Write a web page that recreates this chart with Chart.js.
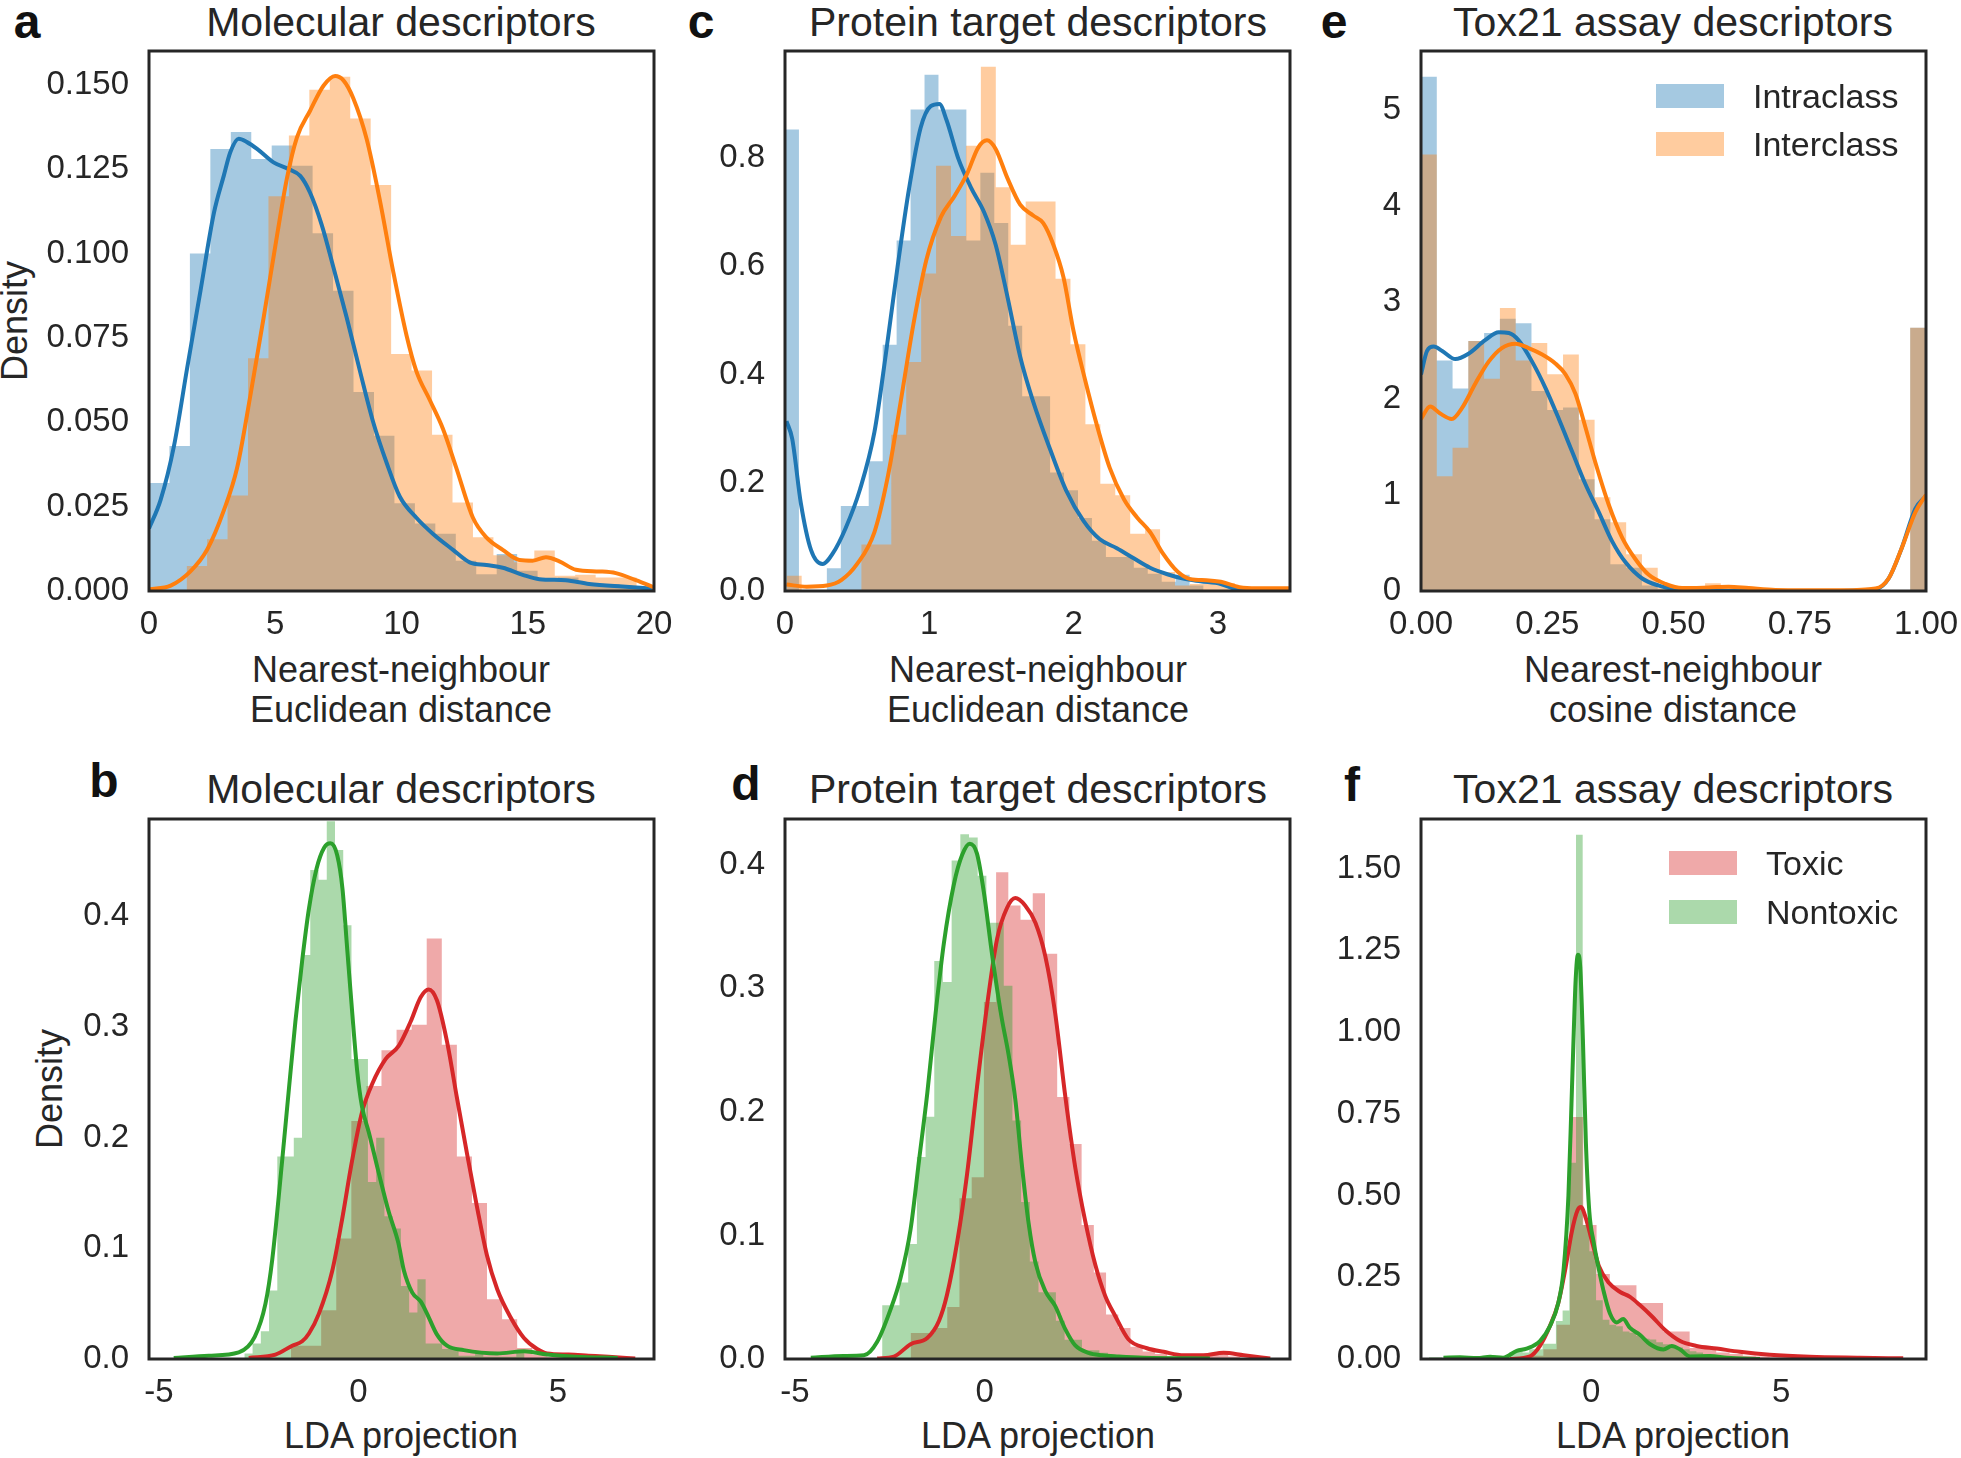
<!DOCTYPE html>
<html>
<head>
<meta charset="utf-8">
<script src="https://cdn.jsdelivr.net/npm/chart.js@4.4.1/dist/chart.umd.min.js"></script>
<style>
  body { margin: 0; background: #fff; width: 1961px; height: 1458px; position: relative; overflow: hidden;
         font-family: "Liberation Sans", Arial, sans-serif; color: #262626; }
  canvas { position: absolute; }
  .t { position: absolute; white-space: nowrap; transform: translate(-50%, -50%); line-height: 1; }
  .title { font-size: 41px; }
  .lab { font-size: 36px; }
  .letter { font-size: 48px; font-weight: bold; color: #111; }
  .ylab { font-size: 36px; transform: translate(-50%, -50%) rotate(-90deg); }
  .sw { position: absolute; width: 68px; height: 24px; }
  .lg { position: absolute; font-size: 34px; line-height: 1; transform: translateY(-50%); white-space: nowrap; }
</style>
</head>
<body>

<div class="t letter" style="left:27px;top:22px">a</div>
<div class="t letter" style="left:701px;top:22px">c</div>
<div class="t letter" style="left:1334px;top:22px">e</div>
<div class="t letter" style="left:104px;top:781px">b</div>
<div class="t letter" style="left:746px;top:784px">d</div>
<div class="t letter" style="left:1352px;top:785px">f</div>

<div class="t title" style="left:401px;top:22px">Molecular descriptors</div>
<div class="t title" style="left:1038px;top:22px">Protein target descriptors</div>
<div class="t title" style="left:1673px;top:22px">Tox21 assay descriptors</div>
<div class="t title" style="left:401px;top:789px">Molecular descriptors</div>
<div class="t title" style="left:1038px;top:789px">Protein target descriptors</div>
<div class="t title" style="left:1673px;top:789px">Tox21 assay descriptors</div>

<div class="t lab" style="left:401px;top:670px">Nearest-neighbour</div>
<div class="t lab" style="left:401px;top:710px">Euclidean distance</div>
<div class="t lab" style="left:1038px;top:670px">Nearest-neighbour</div>
<div class="t lab" style="left:1038px;top:710px">Euclidean distance</div>
<div class="t lab" style="left:1673px;top:670px">Nearest-neighbour</div>
<div class="t lab" style="left:1673px;top:710px">cosine distance</div>
<div class="t lab" style="left:401px;top:1436px">LDA projection</div>
<div class="t lab" style="left:1038px;top:1436px">LDA projection</div>
<div class="t lab" style="left:1673px;top:1436px">LDA projection</div>

<div class="t ylab" style="left:15px;top:321px">Density</div>
<div class="t ylab" style="left:50px;top:1089px">Density</div>

<canvas id="pa"></canvas>
<canvas id="pc"></canvas>
<canvas id="pe"></canvas>
<canvas id="pb"></canvas>
<canvas id="pd"></canvas>
<canvas id="pf"></canvas>

<div class="sw" style="left:1656px;top:84px;background:#a5c9e1"></div>
<div class="lg" style="left:1753px;top:96px">Intraclass</div>
<div class="sw" style="left:1656px;top:132px;background:#ffcc9f"></div>
<div class="lg" style="left:1753px;top:144px">Interclass</div>
<div class="sw" style="left:1669px;top:851px;background:#efa9a9"></div>
<div class="lg" style="left:1766px;top:863px">Toxic</div>
<div class="sw" style="left:1669px;top:900px;background:#abd9ab"></div>
<div class="lg" style="left:1766px;top:912px">Nontoxic</div>

<script>
// ---- panel a: molecular descriptors, nearest-neighbour distance ----
const aIntraStart = 0, aIntraWidth = 0.81;
const aIntraHist = [0.032, 0.043, 0.100, 0.131, 0.136, 0.128, 0.132, 0.126, 0.106, 0.089, 0.059, 0.046,
  0.026, 0.020, 0.017, 0.009, 0.005, 0.011, 0.006, 0.003, 0.004, 0.002, 0.002, 0.001, 0.001];
const aInterStart = 1.49, aInterWidth = 0.81;
const aInterHist = [0.0074, 0.0153, 0.0283, 0.069, 0.117, 0.135, 0.1485, 0.1524, 0.140, 0.1203, 0.0702,
  0.0653, 0.0463, 0.0262, 0.0159, 0.0106, 0.0085, 0.012, 0.0045, 0.0048, 0.004, 0.004, 0.001];
const aIntraKde = [[0,0.0185],[0.46,0.027],[0.99,0.043],[1.51,0.066],[2.04,0.089],[2.57,0.112],[2.96,0.123],
  [3.22,0.13],[3.55,0.134],[3.88,0.133],[4.28,0.131],[4.93,0.127],[5.53,0.125],[5.99,0.123],[6.38,0.118],
  [6.84,0.1085],[7.30,0.096],[7.83,0.081],[8.36,0.065],[8.88,0.050],[9.41,0.038],[9.93,0.028],[10.59,0.0217],
  [11.25,0.0169],[12.04,0.0122],[12.7,0.0085],[13.36,0.0077],[14.01,0.0069],[14.8,0.0048],[15.46,0.0035],
  [16.5,0.0032],[17.43,0.0021],[18.75,0.0013],[20,0.0007]];
const aInterKde = [[0,0.0005],[0.86,0.0016],[1.64,0.0058],[2.3,0.0122],[2.96,0.0238],[3.49,0.0365],[4.01,0.0577],
  [4.54,0.081],[5.07,0.1053],[5.46,0.1222],[5.86,0.1344],[6.38,0.1423],[6.91,0.1497],[7.37,0.1526],[7.7,0.1513],
  [8.09,0.146],[8.62,0.1339],[9.14,0.1159],[9.67,0.0947],[10.2,0.0757],[10.59,0.0651],[11.12,0.0566],
  [11.64,0.0481],[12.17,0.0365],[12.83,0.0217],[13.36,0.0159],[14.01,0.0122],[14.67,0.0092],[15.2,0.009],
  [15.72,0.01],[16.25,0.0088],[16.91,0.0063],[17.83,0.0058],[18.49,0.0053],[19.28,0.0032],[20,0.0011]];

// ---- panel c: protein target descriptors ----
const cIntraStart = 0, cIntraWidth = 0.0967;
const cIntraHist = [0.853, 0, 0, 0.042, 0.157, 0.157, 0.24, 0.455, 0.648, 0.89, 0.954, 0.89, 0.89, 0.648,
  0.773, 0.68, 0.49, 0.36, 0.36, 0.219, 0.186, 0.135, 0.093, 0.063, 0.063, 0.043, 0.032, 0.017, 0.03, 0.01];
const cInterStart = 0.012, cInterWidth = 0.1035;
const cInterHist = [0.028, 0, 0, 0, 0, 0.086, 0.086, 0.289, 0.423, 0.587, 0.786, 0.656, 0.823, 0.969, 0.746,
  0.64, 0.72, 0.72, 0.577, 0.456, 0.308, 0.198, 0.177, 0.106, 0.114, 0.035, 0.01, 0.013, 0.013, 0.015, 0.005];
const cIntraKde = [[0.01,0.314],[0.05,0.281],[0.11,0.162],[0.18,0.076],[0.26,0.05],[0.33,0.069],[0.42,0.116],
  [0.52,0.188],[0.62,0.294],[0.70,0.44],[0.78,0.599],[0.86,0.744],[0.94,0.856],[1.01,0.896],[1.07,0.9],
  [1.12,0.87],[1.20,0.8],[1.29,0.745],[1.38,0.7],[1.46,0.64],[1.54,0.546],[1.63,0.433],[1.72,0.35],
  [1.84,0.26],[1.95,0.185],[2.07,0.129],[2.18,0.096],[2.30,0.079],[2.42,0.06],[2.53,0.043],[2.65,0.031],
  [2.76,0.023],[2.88,0.018],[3.02,0.013],[3.13,0.003],[3.27,0],[3.5,0]];
const cInterKde = [[0.01,0.012],[0.15,0.008],[0.29,0.01],[0.39,0.02],[0.50,0.05],[0.62,0.109],[0.71,0.208],
  [0.80,0.347],[0.89,0.493],[0.98,0.612],[1.08,0.691],[1.17,0.728],[1.26,0.77],[1.34,0.82],[1.40,0.833],
  [1.46,0.817],[1.54,0.764],[1.63,0.714],[1.72,0.694],[1.79,0.68],[1.86,0.64],[1.93,0.58],[2.0,0.48],
  [2.08,0.39],[2.16,0.308],[2.25,0.228],[2.35,0.169],[2.44,0.136],[2.53,0.109],[2.62,0.069],[2.72,0.036],
  [2.81,0.022],[2.92,0.02],[3.02,0.017],[3.15,0.007],[3.27,0.005],[3.5,0.005]];

// ---- panel e: Tox21 assay descriptors ----
const eIntraStart = 0, eIntraWidth = 0.03125;
const eIntraHist = [5.342, 2.394, 2.103, 2.598, 2.68, 2.829, 2.781, 2.077, 1.88, 1.906, 1.161, 0.745, 0.279,
  0.242, 0.056, 0.02, 0, 0, 0, 0, 0, 0, 0, 0, 0, 0, 0, 0, 0, 0, 0, 2.736];
const eInterStart = 0, eInterWidth = 0.03125;
const eInterHist = [4.534, 1.191, 1.489, 2.598, 2.204, 2.94, 2.394, 2.576, 2.252, 2.457, 1.779, 0.975, 0.715,
  0.383, 0.242, 0.037, 0.02, 0.02, 0.08, 0.04, 0.02, 0.01, 0.01, 0, 0, 0, 0, 0, 0, 0, 0, 2.736];
const eIntraKde = [[0,2.25],[0.012,2.494],[0.025,2.539],[0.042,2.494],[0.068,2.409],[0.094,2.464],[0.127,2.606],
  [0.154,2.688],[0.174,2.68],[0.193,2.606],[0.22,2.383],[0.247,2.103],[0.273,1.787],[0.299,1.452],[0.325,1.117],
  [0.352,0.819],[0.378,0.521],[0.405,0.298],[0.438,0.13],[0.471,0.056],[0.504,0.019],[0.537,0.007],[0.636,0],
  [0.8,0],[0.9,0.019],[0.926,0.13],[0.952,0.447],[0.979,0.856],[1.0,0.99]];
const eInterKde = [[0,1.787],[0.018,1.917],[0.038,1.843],[0.061,1.787],[0.081,1.899],[0.108,2.159],[0.134,2.383],
  [0.16,2.524],[0.187,2.569],[0.213,2.524],[0.24,2.457],[0.266,2.364],[0.286,2.252],[0.306,2.047],[0.325,1.712],
  [0.345,1.34],[0.372,0.893],[0.398,0.558],[0.424,0.335],[0.451,0.168],[0.484,0.074],[0.517,0.03],[0.57,0.037],
  [0.609,0.045],[0.649,0.03],[0.702,0.011],[0.834,0.007],[0.9,0.026],[0.926,0.13],[0.952,0.447],[0.979,0.819],
  [1.0,1.0]];

// ---- panel b: molecular descriptors, LDA ----
const bToxicStart = -1.69, bToxicWidth = 0.378;
const bToxicHist = [0.012, 0.012, 0.044, 0.109, 0.215, 0.2466, 0.279, 0.2976, 0.302, 0.38, 0.284, 0.183, 0.141,
  0.054, 0.036, 0.010, 0.004, 0.002, 0.002, 0.002, 0.002];
const bNontoxicStart = -2.86, bNontoxicWidth = 0.2066;
const bNontoxicHist = [0.005, 0.014, 0.025, 0.062, 0.183, 0.183, 0.20, 0.365, 0.442, 0.433, 0.486, 0.46, 0.392,
  0.271, 0.271, 0.160, 0.20, 0.129, 0.118, 0.066, 0.042, 0.072, 0.014, 0.014, 0.009, 0.009, 0.003, 0.003, 0.006,
  0.002, 0.002, 0.002, 0.002, 0.006];
const bToxicKde = [[-2.75,0.001],[-2.08,0.004],[-1.66,0.012],[-1.41,0.016],[-1.24,0.023],[-0.99,0.041],
  [-0.66,0.079],[-0.41,0.126],[-0.16,0.179],[0.09,0.223],[0.35,0.249],[0.68,0.271],[1.01,0.283],[1.31,0.305],
  [1.56,0.327],[1.76,0.334],[1.97,0.324],[2.22,0.287],[2.47,0.236],[2.72,0.186],[2.97,0.138],[3.22,0.094],
  [3.48,0.063],[3.81,0.038],[4.15,0.019],[4.48,0.009],[4.73,0.005],[5.27,0.004],[5.77,0.003],[6.27,0.002],
  [6.94,0.0005]];
const bNontoxicKde = [[-4.63,0.001],[-3.75,0.003],[-3.0,0.006],[-2.6,0.02],[-2.33,0.05],[-2.16,0.09],
  [-1.91,0.18],[-1.74,0.245],[-1.58,0.305],[-1.41,0.36],[-1.24,0.407],[-1.05,0.443],[-0.86,0.462],[-0.70,0.466],
  [-0.53,0.455],[-0.40,0.425],[-0.28,0.37],[-0.16,0.315],[-0.03,0.26],[0.09,0.228],[0.26,0.205],[0.51,0.168],
  [0.76,0.133],[1.0,0.105],[1.14,0.08],[1.35,0.06],[1.56,0.052],[1.72,0.041],[1.97,0.022],[2.22,0.012],
  [2.64,0.008],[3.48,0.005],[4.15,0.007],[4.73,0.004],[5.44,0.002],[6.5,0.001]];

// ---- panel d: protein target descriptors, LDA ----
const dToxicStart = -1.95, dToxicWidth = 0.322;
const dToxicHist = [0.021, 0.021, 0.025, 0.042, 0.13, 0.147, 0.289, 0.394, 0.367, 0.3555, 0.377, 0.328, 0.212,
  0.174, 0.1085, 0.070, 0.036, 0.025, 0.01, 0.006, 0.004, 0.002, 0.002, 0.002, 0.004, 0.005, 0.002];
const dNontoxicStart = -2.70, dNontoxicWidth = 0.229;
const dNontoxicHist = [0.0435, 0.0435, 0.062, 0.093, 0.1635, 0.196, 0.322, 0.305, 0.4035, 0.4247, 0.422, 0.391,
  0.353, 0.353, 0.302, 0.193, 0.127, 0.079, 0.054, 0.054, 0.031, 0.0155, 0.0155, 0.007, 0.007, 0.005];
const dToxicKde = [[-2.83,0.0005],[-2.39,0.002],[-1.95,0.012],[-1.51,0.017],[-1.2,0.031],[-0.99,0.052],
  [-0.72,0.095],[-0.46,0.15],[-0.2,0.22],[0.07,0.287],[0.33,0.34],[0.59,0.365],[0.81,0.373],[1.07,0.367],
  [1.34,0.353],[1.6,0.326],[1.86,0.28],[2.13,0.212],[2.39,0.155],[2.65,0.112],[2.92,0.076],[3.18,0.051],
  [3.44,0.035],[3.79,0.016],[4.28,0.0087],[4.72,0.0058],[5.25,0.003],[5.77,0.003],[6.30,0.005],[6.83,0.003],
  [7.53,0.0005]];
const dNontoxicKde = [[-4.58,0.001],[-3.71,0.0025],[-3.18,0.003],[-2.83,0.014],[-2.48,0.04],[-2.22,0.065],
  [-1.95,0.105],[-1.73,0.16],[-1.51,0.215],[-1.29,0.28],[-1.07,0.337],[-0.81,0.384],[-0.59,0.408],[-0.39,0.417],
  [-0.20,0.409],[-0.02,0.378],[0.2,0.327],[0.44,0.278],[0.64,0.245],[0.81,0.21],[0.99,0.155],[1.16,0.11],
  [1.34,0.078],[1.6,0.055],[1.86,0.043],[2.13,0.024],[2.39,0.011],[2.74,0.005],[3.09,0.003],[3.53,0.002],
  [4.19,0.001],[5.94,0.0005]];

// ---- panel f: Tox21 assay descriptors, LDA ----
const fToxicStart = -1.61, fToxicWidth = 0.35;
const fToxicHist = [0.01, 0.03, 0.105, 0.74, 0.41, 0.26, 0.226, 0.226, 0.171, 0.171, 0.084, 0.084, 0.034, 0.034,
  0.02, 0.015, 0.01, 0.008, 0.005, 0.005, 0.004, 0.003, 0.002, 0.002];
const fNontoxicStart = -4.273, fNontoxicWidth = 0.176;
const fNontoxicHist = [0.005, 0.005, 0, 0.005, 0.005, 0, 0.005, 0.005, 0.01, 0.01, 0.005, 0.005, 0.02, 0.03,
  0.02, 0.03, 0.03, 0.047, 0.047, 0.116, 0.148, 0.6, 1.604, 0.41, 0.33, 0.18, 0.12, 0.105, 0.1, 0.084, 0.08,
  0.07, 0.062, 0.06, 0.051, 0.045, 0.04, 0.035, 0.03, 0.024, 0.02, 0.015, 0.01, 0.008, 0.005];
const fToxicKde = [[-2.14,0.0],[-1.61,0.008],[-1.35,0.04],[-1.09,0.1],[-0.87,0.17],[-0.69,0.27],[-0.51,0.39],
  [-0.36,0.455],[-0.27,0.465],[-0.14,0.43],[0.03,0.355],[0.2,0.285],[0.45,0.235],[0.76,0.205],[1.02,0.19],
  [1.28,0.165],[1.6,0.13],[1.95,0.088],[2.34,0.055],[2.77,0.04],[3.3,0.032],[3.91,0.022],[4.7,0.013],
  [5.75,0.007],[7.07,0.004],[8.21,0.002]];
const fNontoxicKde = [[-3.89,0.004],[-3.45,0.005],[-3.0,0.003],[-2.66,0.007],[-2.32,0.004],[-1.96,0.025],
  [-1.70,0.032],[-1.35,0.055],[-1.09,0.1],[-0.87,0.17],[-0.73,0.27],[-0.6,0.5],[-0.52,0.78],[-0.46,1.0],
  [-0.41,1.16],[-0.35,1.237],[-0.29,1.2],[-0.22,0.98],[-0.14,0.66],[-0.05,0.45],[0.06,0.36],[0.19,0.28],
  [0.32,0.21],[0.49,0.14],[0.67,0.112],[0.84,0.122],[1.02,0.095],[1.28,0.074],[1.55,0.045],[1.90,0.029],
  [2.12,0.04],[2.34,0.029],[2.60,0.008],[3.13,0.009],[3.57,0.004],[4.44,0.0]];

// ---- drawing ----
const BLUE = '#1f77b4', ORANGE = '#ff7f0e', RED = '#d62728', GREEN = '#2ca02c';
const BLUE_H = 'rgba(31,119,180,0.4)', ORANGE_H = 'rgba(255,127,14,0.4)';
const RED_H = 'rgba(214,39,40,0.4)', GREEN_H = 'rgba(44,160,44,0.4)';
const INK = '#262626';

// tick padding is added by Chart.js to the scale padding, so the top/right margins leave room for it
const Y_W = 140, X_H = 80, T_PAD = 45, R_PAD = 50, BOX_W = 505, BOX_H = 540;

Chart.defaults.font.family = '"Liberation Sans", Arial, sans-serif';
Chart.defaults.color = INK;

// bar i covers [start + i*width, start + (i+1)*width]; 'before' keeps each height until the next edge
function hist(start, width, heights, color) {
  const data = heights.map((h, i) => ({ x: start + i * width, y: h }));
  data.push({ x: start + heights.length * width, y: 0 });
  return { data, stepped: 'before', fill: 'origin', backgroundColor: color,
           borderColor: 'rgba(0,0,0,0)', borderWidth: 0, pointRadius: 0 };
}

function kde(points, color) {
  return { data: points.map(([x, y]) => ({ x, y })), borderColor: color, borderWidth: 4,
           pointRadius: 0, fill: false, cubicInterpolationMode: 'monotone' };
}

const frame = {
  id: 'frame',
  afterDraw(chart) {
    const { ctx, chartArea: a } = chart;
    ctx.save();
    ctx.strokeStyle = INK;
    ctx.lineWidth = 3;
    ctx.strokeRect(a.left, a.top, a.right - a.left, a.bottom - a.top);
    ctx.restore();
  }
};

function panel(id, left, top, x, y, datasets) {
  const canvas = document.getElementById(id);
  canvas.width = Y_W + BOX_W + R_PAD;
  canvas.height = T_PAD + BOX_H + X_H;
  canvas.style.left = (left - Y_W) + 'px';
  canvas.style.top = (top - T_PAD) + 'px';
  const tickFont = { size: 33 };
  new Chart(canvas, {
    type: 'line',
    data: { datasets },
    plugins: [frame],
    options: {
      responsive: false,
      animation: false,
      devicePixelRatio: 1,
      layout: { padding: { left: 0, right: R_PAD, top: T_PAD, bottom: 0 } },
      plugins: { legend: { display: false }, tooltip: { enabled: false } },
      scales: {
        x: {
          type: 'linear', min: x.min, max: x.max,
          grid: { display: false, drawTicks: false }, border: { display: false },
          ticks: { stepSize: x.step, includeBounds: false, maxRotation: 0, padding: 14,
                   font: tickFont, color: INK, callback: x.fmt },
          afterFit: s => { s.height = X_H; }
        },
        y: {
          min: 0, max: y.max,
          grid: { display: false, drawTicks: false }, border: { display: false },
          ticks: { stepSize: y.step, includeBounds: false, padding: 20,
                   font: tickFont, color: INK, callback: y.fmt },
          afterFit: s => { s.width = Y_W; }
        }
      }
    }
  });
}

const fmt = d => v => v.toFixed(d);

panel('pa', 149, 51, { min: 0, max: 20, step: 5, fmt: fmt(0) }, { max: 0.16, step: 0.025, fmt: fmt(3) }, [
  kde(aInterKde, ORANGE), kde(aIntraKde, BLUE),
  hist(aInterStart, aInterWidth, aInterHist, ORANGE_H), hist(aIntraStart, aIntraWidth, aIntraHist, BLUE_H)
]);
panel('pc', 785, 51, { min: 0, max: 3.5, step: 1, fmt: fmt(0) }, { max: 0.998, step: 0.2, fmt: fmt(1) }, [
  kde(cInterKde, ORANGE), kde(cIntraKde, BLUE),
  hist(cInterStart, cInterWidth, cInterHist, ORANGE_H), hist(cIntraStart, cIntraWidth, cIntraHist, BLUE_H)
]);
panel('pe', 1421, 51, { min: 0, max: 1, step: 0.25, fmt: fmt(2) }, { max: 5.61, step: 1, fmt: fmt(0) }, [
  kde(eInterKde, ORANGE), kde(eIntraKde, BLUE),
  hist(eInterStart, eInterWidth, eInterHist, ORANGE_H), hist(eIntraStart, eIntraWidth, eIntraHist, BLUE_H)
]);
panel('pb', 149, 819, { min: -5.25, max: 7.41, step: 5, fmt: fmt(0) }, { max: 0.488, step: 0.1, fmt: fmt(1) }, [
  kde(bNontoxicKde, GREEN), kde(bToxicKde, RED),
  hist(bNontoxicStart, bNontoxicWidth, bNontoxicHist, GREEN_H), hist(bToxicStart, bToxicWidth, bToxicHist, RED_H)
]);
panel('pd', 785, 819, { min: -5.26, max: 8.05, step: 5, fmt: fmt(0) }, { max: 0.437, step: 0.1, fmt: fmt(1) }, [
  kde(dNontoxicKde, GREEN), kde(dToxicKde, RED),
  hist(dNontoxicStart, dNontoxicWidth, dNontoxicHist, GREEN_H), hist(dToxicStart, dToxicWidth, dToxicHist, RED_H)
]);
panel('pf', 1421, 819, { min: -4.48, max: 8.81, step: 5, fmt: fmt(0) }, { max: 1.652, step: 0.25, fmt: fmt(2) }, [
  kde(fNontoxicKde, GREEN), kde(fToxicKde, RED),
  hist(fNontoxicStart, fNontoxicWidth, fNontoxicHist, GREEN_H), hist(fToxicStart, fToxicWidth, fToxicHist, RED_H)
]);
</script>
</body>
</html>
